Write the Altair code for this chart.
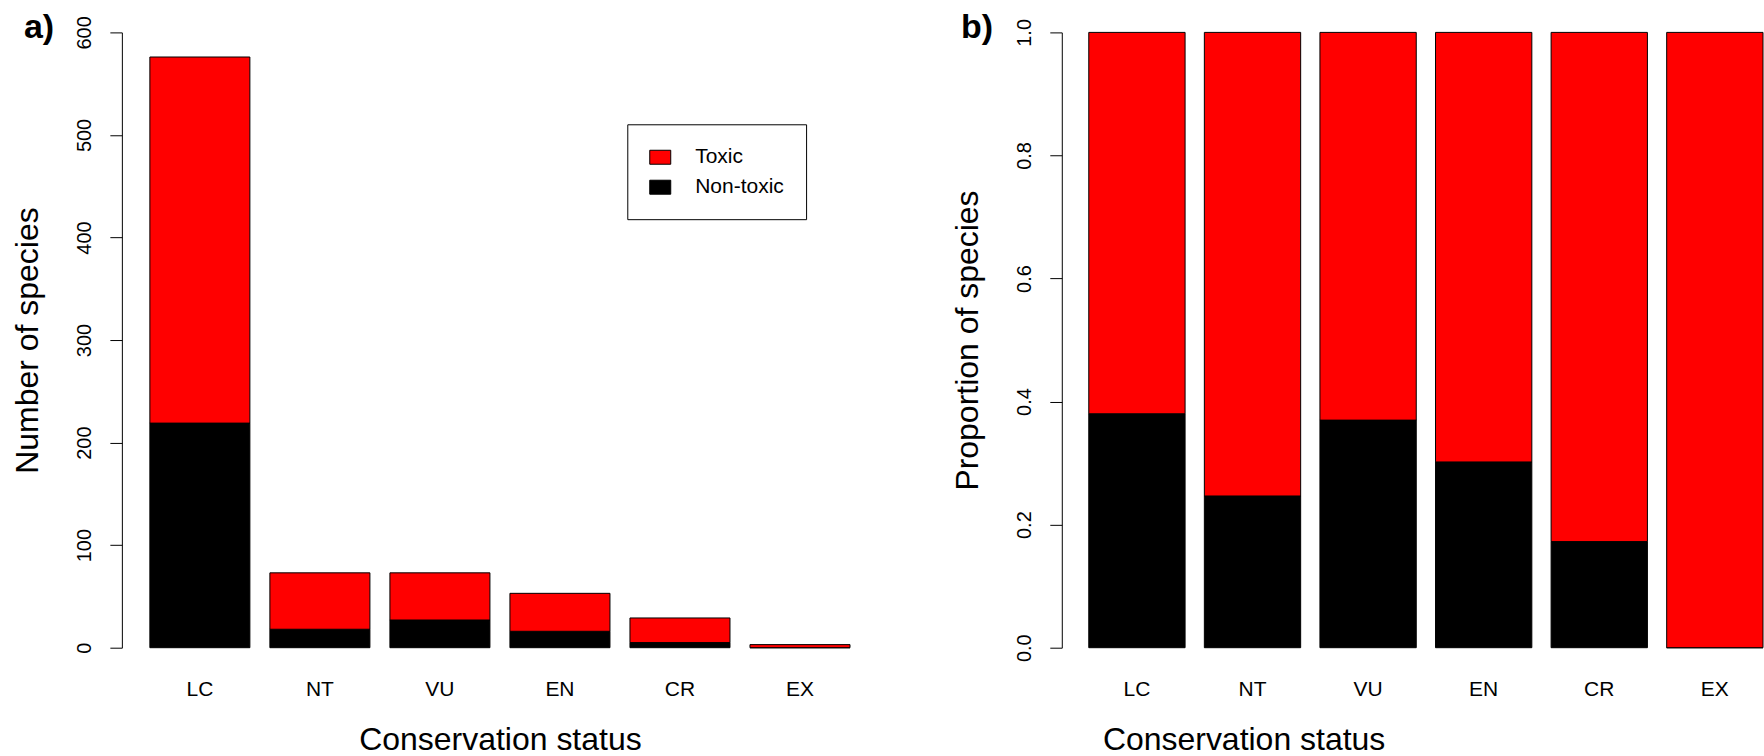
import altair as alt
import pandas as pd

# ---- data ----
statuses = ["LC", "NT", "VU", "EN", "CR", "EX"]
toxic = [357, 55, 46, 37, 24, 3]
non_toxic = [219, 18, 27, 16, 5, 0]
groups = ["Toxic", "Non-toxic"]
colors = ["#ff0000", "#000000"]
count_ticks = [0, 100, 200, 300, 400, 500, 600]
prop_ticks = [0.0, 0.2, 0.4, 0.6, 0.8, 1.0]
panel_tags = ["a)", "b)"]

rows = []
for s, t, n in zip(statuses, toxic, non_toxic):
    rows.append({"status": s, "group": "Non-toxic", "ord": 0, "count": n})
    rows.append({"status": s, "group": "Toxic", "ord": 1, "count": t})
df = pd.DataFrame(rows)

FONT = "Liberation Sans"
H = 616
W_A = 757
W_B = 702


def y_axis(title, values, label_expr):
    return alt.Axis(
        title=title, values=values, labelExpr=label_expr,
        domain=True, domainColor="black", domainWidth=1,
        ticks=True, tickColor="black", tickSize=12, tickWidth=1,
        labelAngle=270, labelAlign="center", labelBaseline="alphabetic",
        labelPadding=19, labelFontSize=20, labelFont=FONT, labelColor="black",
        labelFlush=False, labelOverlap=False, grid=False,
        titleFont=FONT, titleFontSize=32, titleFontWeight="normal",
        titleColor="black", titleAngle=270, titleBaseline="alphabetic",
        titleAlign="center", titleX=-84.6, titleY=H / 2,
    )


def x_axis(width):
    return alt.Axis(
        title="Conservation status", domain=False, ticks=False, tickSize=0,
        labelAngle=0, labelFontSize=21, labelFont=FONT, labelColor="black",
        labelBaseline="alphabetic", labelPadding=48,
        titleFont=FONT, titleFontSize=32, titleFontWeight="normal",
        titleColor="black", titleBaseline="alphabetic", titleY=102,
        titleX=width / 2, titleAlign="center",
    )


def tag(text, dx):
    return alt.Chart(pd.DataFrame({"lab": [text]})).mark_text(
        font=FONT, fontSize=34, fontWeight="bold", color="black",
        align="left", baseline="alphabetic",
    ).encode(text="lab:N", x=alt.value(dx), y=alt.value(6))


bars_a = alt.Chart(df).mark_bar(stroke="black", strokeWidth=1).encode(
    x=alt.X("status:N", sort=statuses,
            scale=alt.Scale(paddingInner=1 / 6, paddingOuter=0.2333),
            axis=x_axis(W_A)),
    y=alt.Y("count:Q", stack="zero",
            scale=alt.Scale(domain=[0, 600], nice=False, zero=True),
            axis=y_axis("Number of species", count_ticks,
                        "format(datum.value, 'd')")),
    color=alt.Color("group:N", scale=alt.Scale(domain=groups, range=colors),
                    legend=alt.Legend(
                        title=None, orient="none", legendX=506, legendY=92,
                        symbolType="M-1,-0.667H1V0.667H-1Z", symbolSize=441,
                        symbolStrokeColor="black", symbolStrokeWidth=1,
                        labelFontSize=21, labelFont=FONT, labelColor="black",
                        labelOffset=24, padding=22, rowPadding=9,
                        strokeColor="black", fillColor="white",
                        cornerRadius=0)),
    order=alt.Order("ord:Q"),
)

panel_a = alt.layer(bars_a, tag(panel_tags[0], -98)).properties(
    width=W_A, height=H)

bars_b = alt.Chart(df).mark_bar(stroke="black", strokeWidth=1).encode(
    x=alt.X("status:N", sort=statuses,
            scale=alt.Scale(paddingInner=1 / 6, paddingOuter=0.11667, align=1),
            axis=x_axis((1790 - 1062) / 2)),
    y=alt.Y("count:Q", stack="normalize",
            scale=alt.Scale(domain=[0, 1], nice=False, zero=True),
            axis=y_axis("Proportion of species", prop_ticks,
                        "format(datum.value, '.1f')")),
    color=alt.Color("group:N", scale=alt.Scale(domain=groups, range=colors),
                    legend=None),
    order=alt.Order("ord:Q"),
)

panel_b = alt.layer(bars_b, tag(panel_tags[1], -101)).properties(
    width=W_B, height=H)

chart = alt.hconcat(panel_a, panel_b, spacing=184, bounds="flush").resolve_scale(
    color="independent"
).properties(
    padding={"left": 11, "top": 11, "right": 0, "bottom": 0},
    background="white",
).configure_view(stroke=None)

chart.save("out.html", embed_options={"renderer": "svg", "actions": False})
